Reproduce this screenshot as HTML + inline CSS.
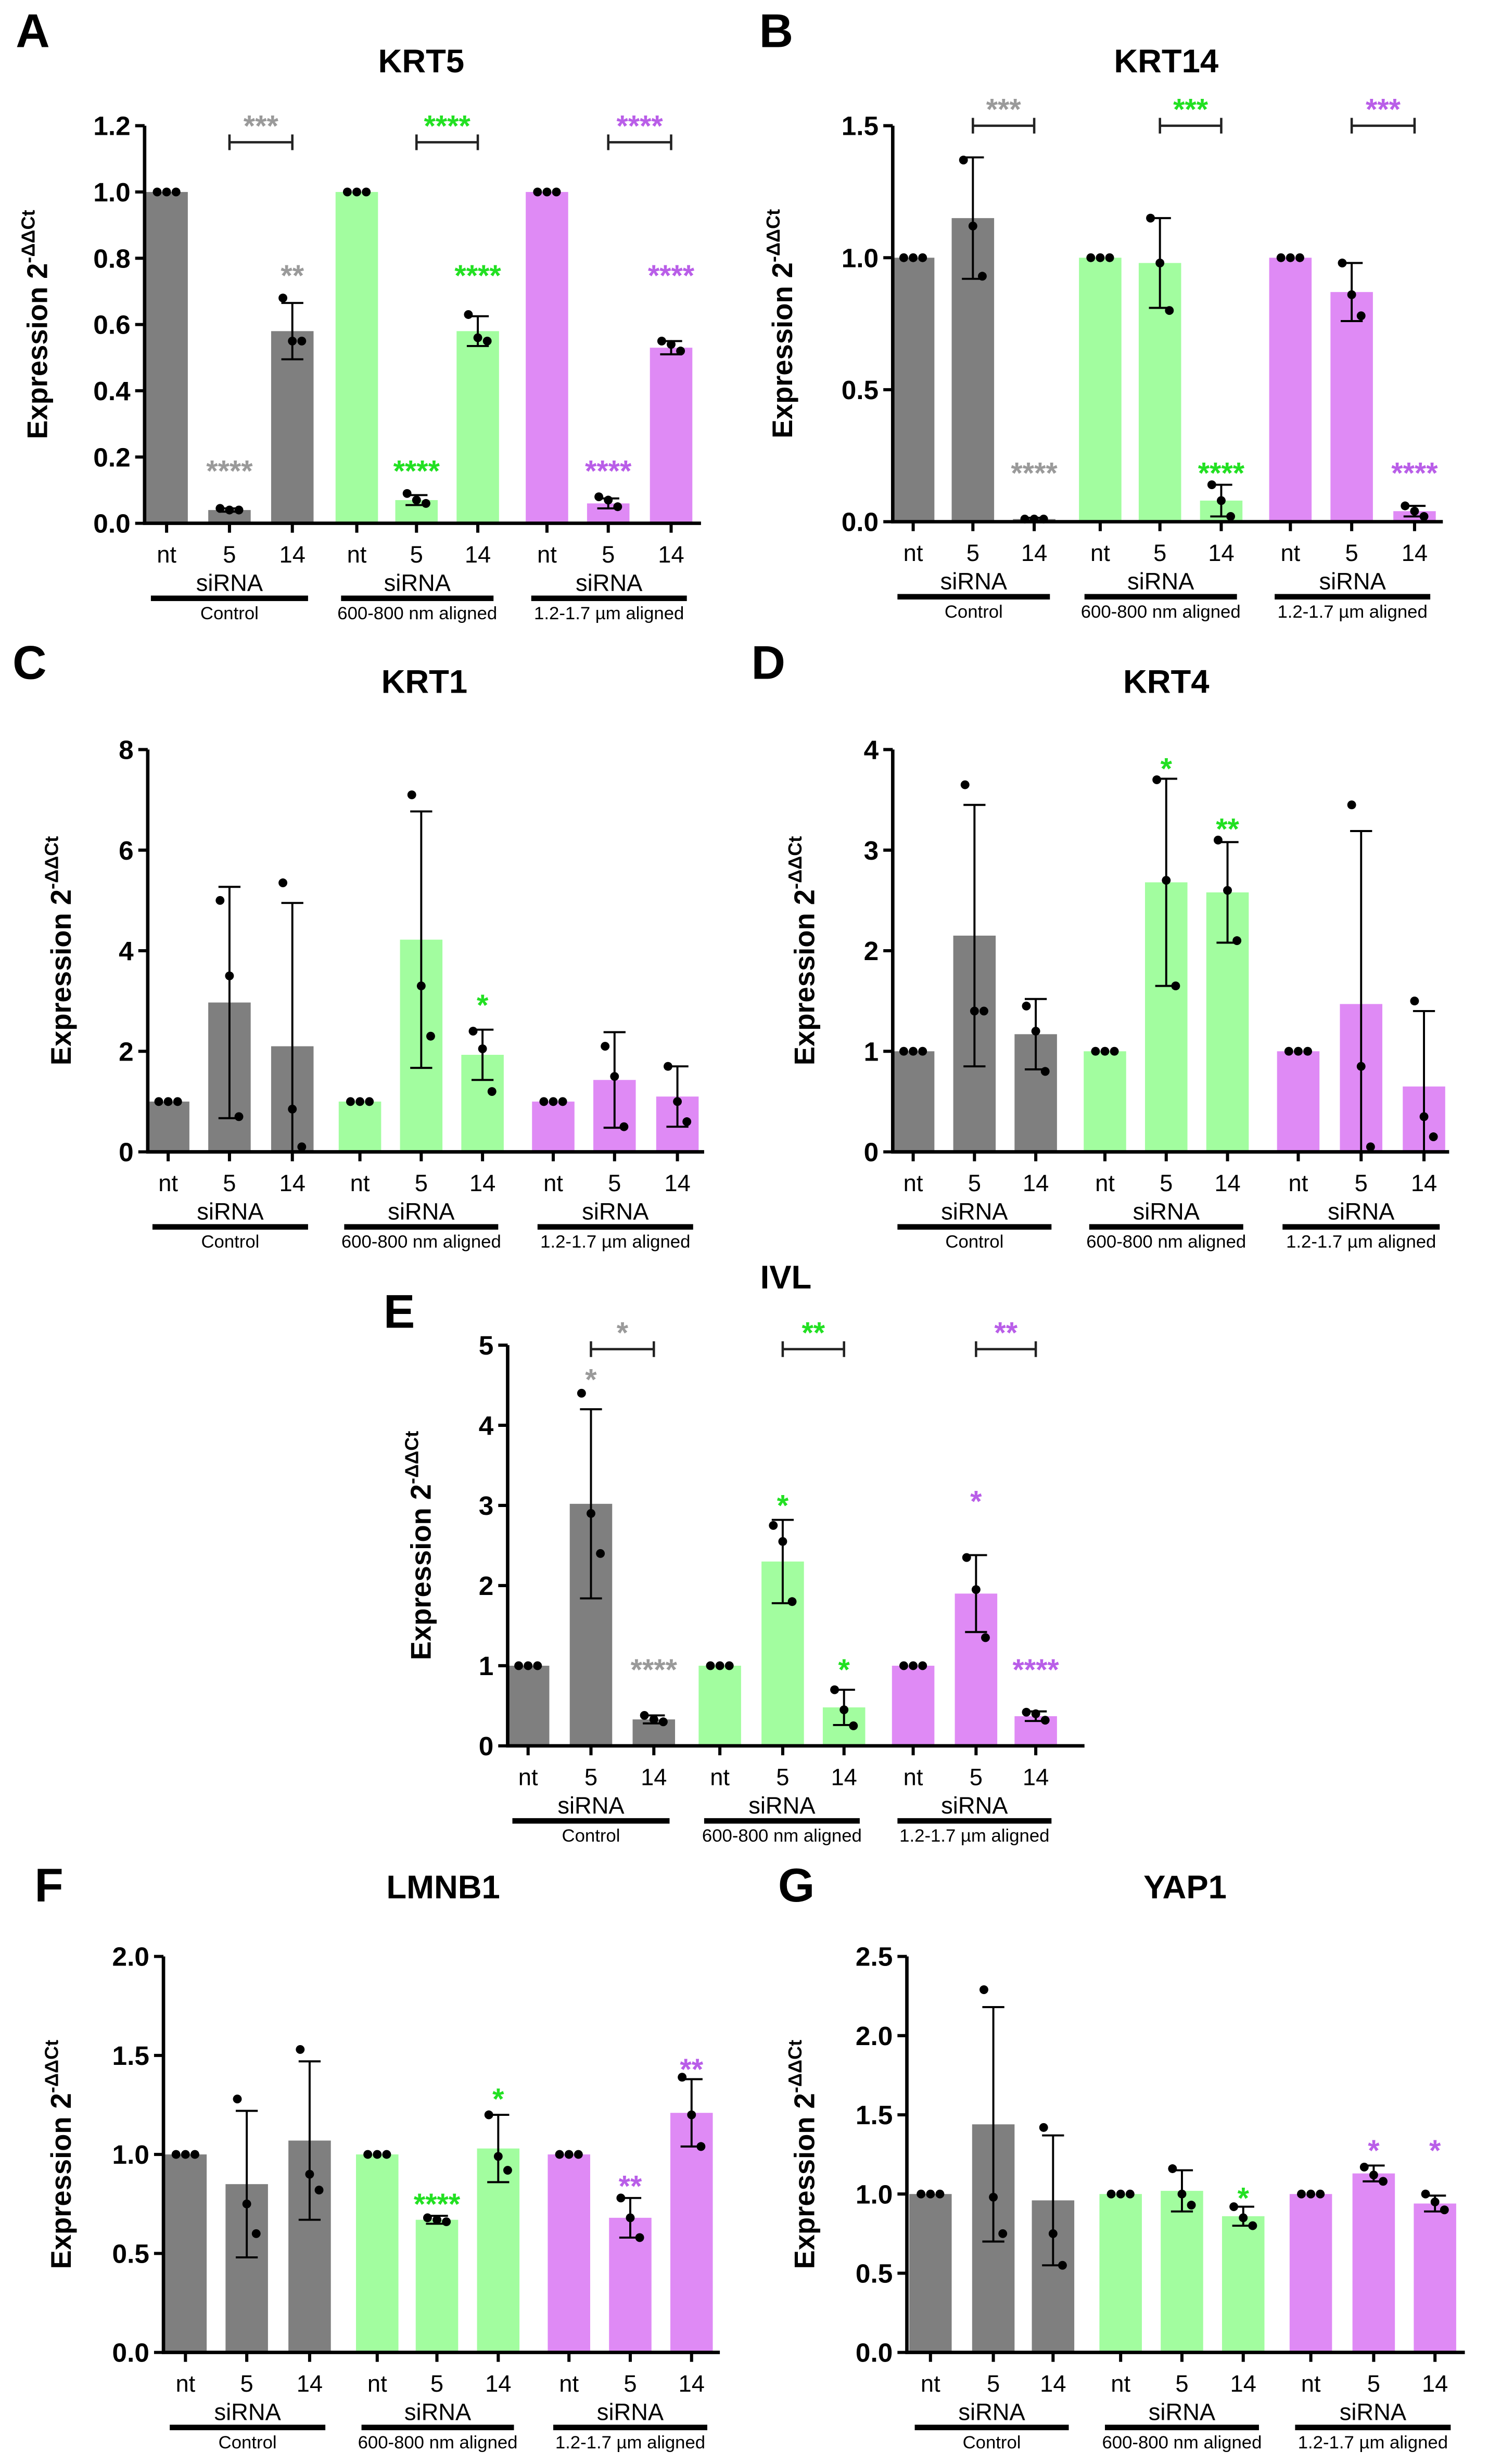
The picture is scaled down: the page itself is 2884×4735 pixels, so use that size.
<!DOCTYPE html>
<html><head><meta charset="utf-8"><style>
html,body{margin:0;padding:0;background:#fff}
svg{display:block}
text{font-family:"Liberation Sans","DejaVu Sans",sans-serif}
</style></head><body>
<svg id="fig" xmlns="http://www.w3.org/2000/svg" width="2884" height="4735" viewBox="0 0 955 1568" preserveAspectRatio="none"></svg>
<script>
// ---- data ----
const groupNames = ["Control","600-800 nm aligned","1.2-1.7 µm aligned"];
const barLabels = ["nt","5","14"];
const krt5Means = [[1,0.04,0.58],[1,0.07,0.58],[1,0.06,0.53]];
const krt5Sd = [[0,0.005,0.085],[0,0.015,0.045],[0,0.015,0.02]];
const krt5Pts = [[[1,1,1],[0.045,0.04,0.04],[0.68,0.55,0.55]],[[1,1,1],[0.09,0.07,0.06],[0.63,0.56,0.55]],[[1,1,1],[0.08,0.07,0.05],[0.55,0.54,0.52]]];
const krt14Means = [[1,1.15,0.01],[1,0.98,0.08],[1,0.87,0.04]];
const krt14Sd = [[0,0.23,0.005],[0,0.17,0.06],[0,0.11,0.02]];
const krt14Pts = [[[1,1,1],[1.37,1.12,0.93],[0.01,0.01,0.01]],[[1,1,1],[1.15,0.98,0.8],[0.14,0.08,0.02]],[[1,1,1],[0.98,0.86,0.78],[0.06,0.04,0.02]]];
const krt1Means = [[1,2.97,2.1],[1,4.22,1.93],[1,1.43,1.1]];
const krt1Sd = [[0,2.3,2.85],[0,2.55,0.5],[0,0.95,0.6]];
const krt1Pts = [[[1,1,1],[5.0,3.5,0.7],[5.35,0.85,0.1]],[[1,1,1],[7.1,3.3,2.3],[2.4,2.05,1.2]],[[1,1,1],[2.1,1.5,0.5],[1.7,1.0,0.6]]];
const krt4Means = [[1,2.15,1.17],[1,2.68,2.58],[1,1.47,0.65]];
const krt4Sd = [[0,1.3,0.35],[0,1.03,0.5],[0,1.72,0.75]];
const krt4Pts = [[[1,1,1],[3.65,1.4,1.4],[1.45,1.2,0.8]],[[1,1,1],[3.7,2.7,1.65],[3.1,2.6,2.1]],[[1,1,1],[3.45,0.85,0.05],[1.5,0.35,0.15]]];
const ivlMeans = [[1,3.02,0.33],[1,2.3,0.48],[1,1.9,0.37]];
const ivlSd = [[0,1.18,0.05],[0,0.52,0.22],[0,0.48,0.06]];
const ivlPts = [[[1,1,1],[4.4,2.9,2.4],[0.38,0.33,0.3]],[[1,1,1],[2.75,2.55,1.8],[0.7,0.45,0.25]],[[1,1,1],[2.35,1.95,1.35],[0.42,0.4,0.32]]];
const lmnb1Means = [[1,0.85,1.07],[1,0.67,1.03],[1,0.68,1.21]];
const lmnb1Sd = [[0,0.37,0.4],[0,0.02,0.17],[0,0.1,0.17]];
const lmnb1Pts = [[[1,1,1],[1.28,0.75,0.6],[1.53,0.9,0.82]],[[1,1,1],[0.68,0.67,0.66],[1.2,0.99,0.92]],[[1,1,1],[0.78,0.68,0.58],[1.39,1.2,1.04]]];
const yap1Means = [[1,1.44,0.96],[1,1.02,0.86],[1,1.13,0.94]];
const yap1Sd = [[0,0.74,0.41],[0,0.13,0.06],[0,0.05,0.05]];
const yap1Pts = [[[1,1,1],[2.29,0.98,0.75],[1.42,0.75,0.55]],[[1,1,1],[1.16,1.0,0.93],[0.92,0.85,0.8]],[[1,1,1],[1.17,1.12,1.08],[1.0,0.95,0.9]]];
// star annotations: [group, bar, text, value]
const krt5Stars = [[0,1,"****",0.17],[0,2,"**",0.76],[1,1,"****",0.17],[1,2,"****",0.76],[2,1,"****",0.17],[2,2,"****",0.76]];
const krt5Brackets = [[0,"***",1.15],[1,"****",1.15],[2,"****",1.15]];
const krt14Stars = [[0,2,"****",0.2],[1,2,"****",0.2],[2,2,"****",0.2]];
const krt14Brackets = [[0,"***",1.5],[1,"***",1.5],[2,"***",1.5]];
const krt1Stars = [[1,2,"*",3.0]];
const krt4Stars = [[1,1,"*",3.85],[1,2,"**",3.25]];
const ivlStars = [[0,1,"*",4.62],[0,2,"****",1.0],[1,1,"*",3.05],[1,2,"*",1.0],[2,1,"*",3.1],[2,2,"****",1.0]];
const ivlBrackets = [[0,"*",4.95],[1,"**",4.95],[2,"**",4.95]];
const lmnb1Stars = [[1,1,"****",0.77],[1,2,"*",1.3],[2,1,"**",0.86],[2,2,"**",1.45]];
const yap1Stars = [[1,2,"*",1.0],[2,1,"*",1.3],[2,2,"*",1.3]];
const krt5Ticks = ["0.0","0.2","0.4","0.6","0.8","1.0","1.2"];
const krt14Ticks = ["0.0","0.5","1.0","1.5"];
const krt1Ticks = ["0","2","4","6","8"];
const krt4Ticks = ["0","1","2","3","4"];
const ivlTicks = ["0","1","2","3","4","5"];
const lmnb1Ticks = ["0.0","0.5","1.0","1.5","2.0"];
const yap1Ticks = ["0.0","0.5","1.0","1.5","2.0","2.5"];

const barColors = ["#7f7f7f","#a2fd9f","#df8af5"];
const starColors = ["#9a9a9a","#22e022","#b95ee8"];

const panels = [
 {key:"krt5",letter:"A",lx:10,ly:30,title:"KRT5",tx:268,ty:46,ax:92,y0:333,yt:80,max:1.2,ticks:krt5Ticks,xe:446,c:[[106,146,186],[227,265,304],[348,387,427]],ylx:30,m:krt5Means,sd:krt5Sd,p:krt5Pts,s:krt5Stars,b:krt5Brackets},
 {key:"krt14",letter:"B",lx:483,ly:30,title:"KRT14",tx:742,ty:46,ax:568,y0:332,yt:80,max:1.5,ticks:krt14Ticks,xe:918,c:[[581,619,658],[700,738,777],[821,860,900]],ylx:504,m:krt14Means,sd:krt14Sd,p:krt14Pts,s:krt14Stars,b:krt14Brackets},
 {key:"krt1",letter:"C",lx:8,ly:432,title:"KRT1",tx:270,ty:441,ax:94,y0:733,yt:477,max:8,ticks:krt1Ticks,xe:448,c:[[107,146,186],[229,268,307],[352,391,431]],ylx:45,m:krt1Means,sd:krt1Sd,p:krt1Pts,s:krt1Stars,b:[]},
 {key:"krt4",letter:"D",lx:478,ly:432,title:"KRT4",tx:742,ty:441,ax:568,y0:733,yt:477,max:4,ticks:krt4Ticks,xe:922,c:[[581,620,659],[703,742,781],[826,866,906]],ylx:518,m:krt4Means,sd:krt4Sd,p:krt4Pts,s:krt4Stars,b:[]},
 {key:"ivl",letter:"E",lx:244,ly:845,title:"IVL",tx:500,ty:820,ax:323,y0:1111,yt:856,max:5,ticks:ivlTicks,xe:690,c:[[336,376,416],[458,498,537],[581,621,659]],ylx:274,m:ivlMeans,sd:ivlSd,p:ivlPts,s:ivlStars,b:ivlBrackets},
 {key:"lmnb1",letter:"F",lx:22,ly:1210,title:"LMNB1",tx:282,ty:1208,ax:104,y0:1497,yt:1245,max:2.0,ticks:lmnb1Ticks,xe:458,c:[[118,157,197],[240,278,317],[362,401,440]],ylx:45,m:lmnb1Means,sd:lmnb1Sd,p:lmnb1Pts,s:lmnb1Stars,b:[]},
 {key:"yap1",letter:"G",lx:495,ly:1210,title:"YAP1",tx:754,ty:1208,ax:577,y0:1497,yt:1245,max:2.5,ticks:yap1Ticks,xe:932,c:[[592,632,670],[713,752,791],[834,874,913]],ylx:518,m:yap1Means,sd:yap1Sd,p:yap1Pts,s:yap1Stars,b:[]}
];
const NS="http://www.w3.org/2000/svg";
const svg=document.getElementById('fig');
function mk(tag,attrs,parent,txt){const e=document.createElementNS(NS,tag);for(const k in attrs)e.setAttribute(k,attrs[k]);if(txt!==undefined)e.textContent=txt;(parent||svg).appendChild(e);return e;}
const BW=27;
panels.forEach(P=>{
 const g=mk('g',{});
 
 
 const Y=v=>P.y0-(v/P.max)*(P.y0-P.yt);
 const L=mk('text',{x:P.lx,y:P.ly,'font-size':30,'font-weight':'bold'},g,P.letter);
 
 
 const T=mk('text',{x:P.tx,y:P.ty,'font-size':21,'font-weight':'bold','text-anchor':'middle'},g,P.title);
 
 
 // y label
 const cy=(P.y0+P.yt)/2;
 const yl=mk('text',{x:P.ylx,y:cy,'font-size':18,'font-weight':'bold','text-anchor':'middle',transform:`rotate(-90 ${P.ylx} ${cy})`},g);
 
 
 mk('tspan',{},yl,'Expression 2');
 mk('tspan',{'font-size':12,dy:-8},yl,'-ΔΔCt');
 // bars
 P.m.forEach((grp,gi)=>grp.forEach((v,bi)=>{
  const x=P.c[gi][bi];
  const r=mk('rect',{x:x-BW/2,y:Y(v),width:BW,height:P.y0-Y(v),fill:barColors[gi]},g);
  
  
  const sd=P.sd[gi][bi];
  if(sd>0){
   const eb=mk('path',{d:`M${x} ${Y(v+sd)}V${Y(Math.max(0,v-sd))}M${x-7} ${Y(v+sd)}H${x+7}M${x-7} ${Y(Math.max(0,v-sd))}H${x+7}`,stroke:'#000','stroke-width':1.3,fill:'none'},g);
   
   
  }
  P.p[gi][bi].forEach((pv,pi)=>{
   const d=mk('circle',{cx:x+(pi-1)*6,cy:Y(pv),r:2.8,fill:'#000'},g);
   
   
  });
  // x tick + label
  mk('line',{x1:x,x2:x,y1:P.y0,y2:P.y0+6,stroke:'#000','stroke-width':2},g);
  const xl=mk('text',{x:x,y:P.y0+25,'font-size':15,'text-anchor':'middle'},g,barLabels[bi]);
  
  
 }));
 // group labels
 P.c.forEach((cs,gi)=>{
  const mid=(cs[0]+cs[2])/2;
  const s=mk('text',{x:mid,y:P.y0+43,'font-size':15,'text-anchor':'middle'},g,'siRNA');
  
  
  mk('rect',{x:cs[0]-10,y:P.y0+46,width:cs[2]-cs[0]+20,height:3.5,fill:'#000'},g);
  const gl=mk('text',{x:mid,y:P.y0+61,'font-size':11.5,'text-anchor':'middle'},g,groupNames[gi]);
  
  
 });
 // axes
 mk('line',{x1:P.ax,x2:P.ax,y1:P.yt,y2:P.y0+1,stroke:'#000','stroke-width':2.2},g);
 mk('line',{x1:P.ax-1,x2:P.xe,y1:P.y0,y2:P.y0,stroke:'#000','stroke-width':2.2},g);
 P.ticks.forEach(t=>{
  const v=parseFloat(t);
  mk('line',{x1:P.ax-6,x2:P.ax,y1:Y(v),y2:Y(v),stroke:'#000','stroke-width':2},g);
  const tl=mk('text',{x:P.ax-9,y:Y(v)+6,'font-size':17,'font-weight':'bold','text-anchor':'end'},g,t);
  
  
 });
 // stars
 P.s.forEach(s=>{
  const st=mk('text',{x:P.c[s[0]][s[1]],y:Y(s[3])+9,'font-size':19,'font-weight':'bold','text-anchor':'middle',fill:starColors[s[0]]},g,s[2]);
  
  
 });
 P.b.forEach(b=>{
  const x1=P.c[b[0]][1],x2=P.c[b[0]][2],y=Y(b[2]);
  const br=mk('path',{d:`M${x1} ${y-5}V${y+5}M${x1} ${y}H${x2}M${x2} ${y-5}V${y+5}`,stroke:'#222','stroke-width':1.5,fill:'none'},g);
  
  
  const bt=mk('text',{x:(x1+x2)/2,y:y-4,'font-size':19,'font-weight':'bold','text-anchor':'middle',fill:starColors[b[0]]},g,b[1]);
  
  
 });
});
</script>
</body></html>
